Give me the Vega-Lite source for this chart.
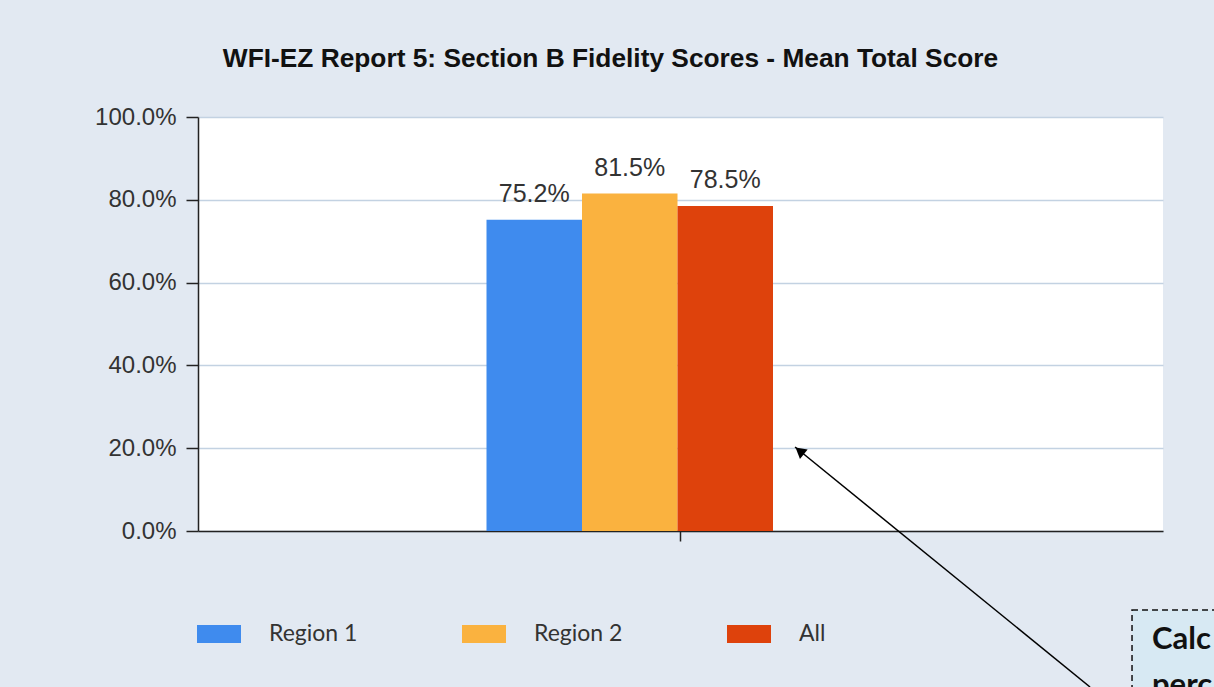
{
  "$schema": "https://vega.github.io/schema/vega-lite/v6.json",
  "width": 965,
  "height": 414,
  "autosize": {"type": "none"},
  "padding": {"left": 198, "top": 117, "right": 51, "bottom": 156},
  "background": "#e2e9f2",
  "config": {
    "view": {"fill": "white", "stroke": null},
    "font": "Liberation Sans"
  },
  "title": {
    "text": "WFI-EZ Report 5: Section B Fidelity Scores - Mean Total Score",
    "font": "Liberation Sans",
    "fontSize": 26.3,
    "fontWeight": "bold",
    "color": "#111111",
    "anchor": "middle",
    "frame": "group",
    "dx": -70,
    "offset": 33
  },
  "datasets": {
    "bars": [
      {"group": "Mean Total Score", "series": "Region 1", "score": 75.2},
      {"group": "Mean Total Score", "series": "Region 2", "score": 81.5},
      {"group": "Mean Total Score", "series": "All", "score": 78.5}
    ],
    "arrow": [{"x": 0.9244, "y": -37.68, "x2": 0.6187, "y2": 20.29}],
    "head": [{"x": 0.6235, "y": 19.37}],
    "box": [{"x": 0.9679, "y": -19.08, "x2": 1.08, "y2": -45}],
    "note": [
      {"x": 0.9886, "y": -28.5, "t": "Calc"},
      {"x": 0.9886, "y": -39.6, "t": "perc"}
    ]
  },
  "layer": [
    {
      "data": {"name": "bars"},
      "encoding": {
        "x": {
          "field": "group",
          "type": "nominal",
          "scale": {"paddingInner": 0, "paddingOuter": 0},
          "axis": {
            "title": null,
            "labels": false,
            "domainColor": "#222222",
            "domainWidth": 1.5,
            "tickColor": "#222222",
            "tickWidth": 1.5,
            "tickSize": 10,
            "grid": false
          }
        },
        "xOffset": {
          "field": "series",
          "type": "nominal",
          "scale": {
            "domain": ["Region 1", "Region 2", "All"],
            "paddingInner": 0,
            "paddingOuter": 0,
            "range": [288.5, 575]
          }
        },
        "y": {
          "field": "score",
          "type": "quantitative",
          "scale": {"domain": [0, 100]},
          "axis": {
            "title": null,
            "values": [0, 20, 40, 60, 80, 100],
            "labelExpr": "format(datum.value, '.1f') + '%'",
            "labelFont": "Liberation Sans",
            "labelFontSize": 24,
            "labelColor": "#333333",
            "labelPadding": 10,
            "gridColor": "#c3d2e2",
            "gridWidth": 1.5,
            "domainColor": "#222222",
            "domainWidth": 1.5,
            "tickColor": "#222222",
            "tickWidth": 1.5,
            "tickSize": 12
          }
        }
      },
      "layer": [
        {
          "mark": {"type": "bar"},
          "encoding": {
            "color": {
              "field": "series",
              "type": "nominal",
              "scale": {
                "domain": ["Region 1", "Region 2", "All"],
                "range": ["#3f8bee", "#fab23f", "#de420c"]
              },
              "legend": {
                "title": null,
                "orient": "none",
                "direction": "horizontal",
                "legendX": -1,
                "legendY": 495,
                "symbolType": "M-1,-0.41H1V0.41H-1Z",
                "symbolSize": 1936,
                "symbolStrokeWidth": 0,
                "symbolOpacity": 1,
                "labelFont": "Lato",
                "labelFontSize": 23,
                "labelColor": "#333333",
                "labelOffset": 28,
                "columnPadding": 104,
                "padding": 0
              }
            }
          }
        },
        {
          "mark": {
            "type": "text",
            "baseline": "alphabetic",
            "dy": -18,
            "font": "Liberation Sans",
            "fontSize": 25,
            "color": "#333333",
            "text": {"expr": "format(datum.score, '.1f') + '%'"}
          }
        }
      ]
    },
    {
      "data": {"name": "box"},
      "mark": {"type": "rect", "fill": "#d7e9f3", "stroke": "#111111", "strokeWidth": 1.5, "strokeDash": [6, 4]},
      "encoding": {
        "x": {"field": "x", "type": "quantitative", "scale": {"domain": [0, 1]}, "axis": null},
        "x2": {"field": "x2"},
        "y": {"field": "y", "type": "quantitative", "scale": {"domain": [0, 100]}},
        "y2": {"field": "y2"}
      }
    },
    {
      "data": {"name": "note"},
      "mark": {"type": "text", "align": "left", "baseline": "alphabetic", "font": "Lato", "fontWeight": "bold", "fontSize": 31, "color": "#111111"},
      "encoding": {
        "x": {"field": "x", "type": "quantitative", "scale": {"domain": [0, 1]}, "axis": null},
        "y": {"field": "y", "type": "quantitative", "scale": {"domain": [0, 100]}},
        "text": {"field": "t"}
      }
    },
    {
      "data": {"name": "arrow"},
      "mark": {"type": "rule", "color": "#000000", "strokeWidth": 1.5},
      "encoding": {
        "x": {"field": "x", "type": "quantitative", "scale": {"domain": [0, 1]}, "axis": null},
        "x2": {"field": "x2"},
        "y": {"field": "y", "type": "quantitative", "scale": {"domain": [0, 100]}},
        "y2": {"field": "y2"}
      }
    },
    {
      "data": {"name": "head"},
      "mark": {"type": "point", "shape": "triangle-up", "filled": true, "color": "#000000", "size": 150, "opacity": 1, "angle": 309},
      "encoding": {
        "x": {"field": "x", "type": "quantitative", "scale": {"domain": [0, 1]}, "axis": null},
        "y": {"field": "y", "type": "quantitative", "scale": {"domain": [0, 100]}}
      }
    }
  ],
  "resolve": {"scale": {"x": "independent"}}
}
